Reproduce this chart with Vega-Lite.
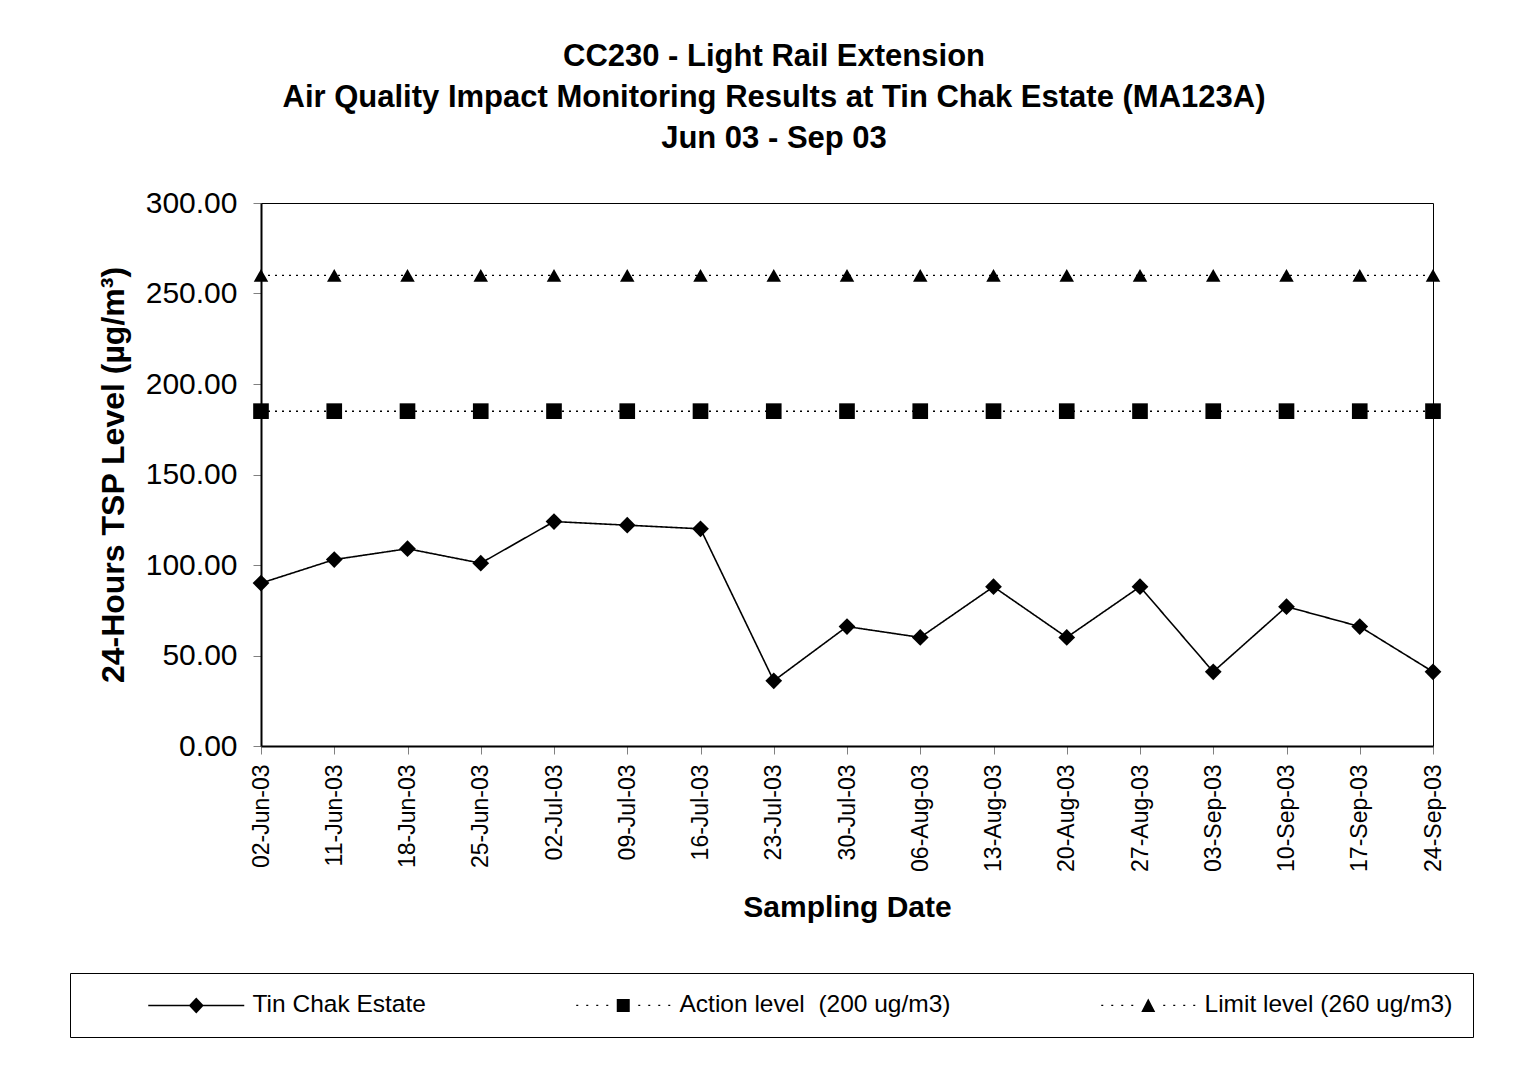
{
  "$schema": "https://vega.github.io/schema/vega-lite/v6.json",
  "autosize": {"type": "none"},
  "width": 1172,
  "height": 543,
  "padding": {"left": 261, "top": 203, "right": 93, "bottom": 326},
  "background": "white",
  "config": {
    "font": "Liberation Sans",
    "view": {"stroke": "black", "strokeWidth": 1},
    "axis": {"grid": false, "domainColor": "black", "domainWidth": 2, "tickColor": "#808080", "tickSize": 8, "tickWidth": 1, "labelColor": "black", "titleColor": "black", "labelFont": "Liberation Sans", "titleFont": "Liberation Sans"}
  },
  "title": {
    "text": ["CC230 - Light Rail Extension", "Air Quality Impact Monitoring Results at Tin Chak Estate (MA123A)", "Jun 03 - Sep 03"],
    "font": "Liberation Sans",
    "fontSize": 31,
    "fontWeight": "bold",
    "color": "black",
    "lineHeight": 41,
    "anchor": "middle",
    "dx": -73,
    "offset": 33
  },
  "data": {
    "values": [
      {"date": "02-Jun-03", "series": "Tin Chak Estate", "value": 90},
      {"date": "11-Jun-03", "series": "Tin Chak Estate", "value": 103},
      {"date": "18-Jun-03", "series": "Tin Chak Estate", "value": 109},
      {"date": "25-Jun-03", "series": "Tin Chak Estate", "value": 101},
      {"date": "02-Jul-03", "series": "Tin Chak Estate", "value": 124},
      {"date": "09-Jul-03", "series": "Tin Chak Estate", "value": 122},
      {"date": "16-Jul-03", "series": "Tin Chak Estate", "value": 120},
      {"date": "23-Jul-03", "series": "Tin Chak Estate", "value": 36},
      {"date": "30-Jul-03", "series": "Tin Chak Estate", "value": 66},
      {"date": "06-Aug-03", "series": "Tin Chak Estate", "value": 60},
      {"date": "13-Aug-03", "series": "Tin Chak Estate", "value": 88},
      {"date": "20-Aug-03", "series": "Tin Chak Estate", "value": 60},
      {"date": "27-Aug-03", "series": "Tin Chak Estate", "value": 88},
      {"date": "03-Sep-03", "series": "Tin Chak Estate", "value": 41},
      {"date": "10-Sep-03", "series": "Tin Chak Estate", "value": 77},
      {"date": "17-Sep-03", "series": "Tin Chak Estate", "value": 66},
      {"date": "24-Sep-03", "series": "Tin Chak Estate", "value": 41},
      {"date": "02-Jun-03", "series": "Action level  (200 ug/m3)", "value": 185},
      {"date": "11-Jun-03", "series": "Action level  (200 ug/m3)", "value": 185},
      {"date": "18-Jun-03", "series": "Action level  (200 ug/m3)", "value": 185},
      {"date": "25-Jun-03", "series": "Action level  (200 ug/m3)", "value": 185},
      {"date": "02-Jul-03", "series": "Action level  (200 ug/m3)", "value": 185},
      {"date": "09-Jul-03", "series": "Action level  (200 ug/m3)", "value": 185},
      {"date": "16-Jul-03", "series": "Action level  (200 ug/m3)", "value": 185},
      {"date": "23-Jul-03", "series": "Action level  (200 ug/m3)", "value": 185},
      {"date": "30-Jul-03", "series": "Action level  (200 ug/m3)", "value": 185},
      {"date": "06-Aug-03", "series": "Action level  (200 ug/m3)", "value": 185},
      {"date": "13-Aug-03", "series": "Action level  (200 ug/m3)", "value": 185},
      {"date": "20-Aug-03", "series": "Action level  (200 ug/m3)", "value": 185},
      {"date": "27-Aug-03", "series": "Action level  (200 ug/m3)", "value": 185},
      {"date": "03-Sep-03", "series": "Action level  (200 ug/m3)", "value": 185},
      {"date": "10-Sep-03", "series": "Action level  (200 ug/m3)", "value": 185},
      {"date": "17-Sep-03", "series": "Action level  (200 ug/m3)", "value": 185},
      {"date": "24-Sep-03", "series": "Action level  (200 ug/m3)", "value": 185},
      {"date": "02-Jun-03", "series": "Limit level (260 ug/m3)", "value": 260},
      {"date": "11-Jun-03", "series": "Limit level (260 ug/m3)", "value": 260},
      {"date": "18-Jun-03", "series": "Limit level (260 ug/m3)", "value": 260},
      {"date": "25-Jun-03", "series": "Limit level (260 ug/m3)", "value": 260},
      {"date": "02-Jul-03", "series": "Limit level (260 ug/m3)", "value": 260},
      {"date": "09-Jul-03", "series": "Limit level (260 ug/m3)", "value": 260},
      {"date": "16-Jul-03", "series": "Limit level (260 ug/m3)", "value": 260},
      {"date": "23-Jul-03", "series": "Limit level (260 ug/m3)", "value": 260},
      {"date": "30-Jul-03", "series": "Limit level (260 ug/m3)", "value": 260},
      {"date": "06-Aug-03", "series": "Limit level (260 ug/m3)", "value": 260},
      {"date": "13-Aug-03", "series": "Limit level (260 ug/m3)", "value": 260},
      {"date": "20-Aug-03", "series": "Limit level (260 ug/m3)", "value": 260},
      {"date": "27-Aug-03", "series": "Limit level (260 ug/m3)", "value": 260},
      {"date": "03-Sep-03", "series": "Limit level (260 ug/m3)", "value": 260},
      {"date": "10-Sep-03", "series": "Limit level (260 ug/m3)", "value": 260},
      {"date": "17-Sep-03", "series": "Limit level (260 ug/m3)", "value": 260},
      {"date": "24-Sep-03", "series": "Limit level (260 ug/m3)", "value": 260}
    ]
  },
  "encoding": {
    "x": {
      "field": "date", "type": "ordinal", "sort": null,
      "scale": {"type": "point", "padding": 0},
      "axis": {"title": "Sampling Date", "titleFontSize": 30, "titleFontWeight": "bold", "titlePadding": 21, "labelAngle": 270, "labelFontSize": 23, "labelPadding": 10}
    },
    "y": {
      "field": "value", "type": "quantitative",
      "scale": {"domain": [0, 300], "nice": false},
      "axis": {"title": "24-Hours TSP Level (µg/m³)", "titleFontSize": 32, "titleFontWeight": "bold", "titlePadding": 15, "values": [0, 50, 100, 150, 200, 250, 300], "format": ".2f", "labelFontSize": 30, "labelPadding": 16}
    }
  },
  "layer": [
    {
      "mark": {"type": "line", "color": "black"},
      "encoding": {
        "detail": {"field": "series"},
        "strokeDash": {"field": "series", "type": "nominal", "scale": {"domain": ["Tin Chak Estate", "Action level  (200 ug/m3)", "Limit level (260 ug/m3)"], "range": [[1, 0], [2, 5], [2, 5]]}, "legend": null},
        "strokeWidth": {"field": "series", "type": "nominal", "scale": {"domain": ["Tin Chak Estate", "Action level  (200 ug/m3)", "Limit level (260 ug/m3)"], "range": [1.6, 1.3, 1.3]}, "legend": null}
      }
    },
    {
      "mark": {"type": "point", "filled": true, "color": "black", "opacity": 1},
      "encoding": {
        "shape": {"field": "series", "type": "nominal", "scale": {"domain": ["Tin Chak Estate", "Action level  (200 ug/m3)", "Limit level (260 ug/m3)"], "range": ["diamond", "square", "triangle-up"]}, "legend": null},
        "size": {"field": "series", "type": "nominal", "scale": {"domain": ["Tin Chak Estate", "Action level  (200 ug/m3)", "Limit level (260 ug/m3)"], "range": [280, 210, 310]}, "legend": null}
      }
    },
    {
      "mark": {"type": "point", "filled": true, "color": "black", "opacity": 0, "size": 100},
      "encoding": {
        "shape": {
          "field": "series", "type": "nominal",
          "scale": {"domain": ["Tin Chak Estate", "Action level  (200 ug/m3)", "Limit level (260 ug/m3)"],
            "range": [
              "M9.2,-0.15H28.4V0.15H9.2Z M18.8,-1.6L20.3,0L18.8,1.6L17.3,0Z",
              "M9.4,-0.12h0.4v0.25h-0.4Z M11.4,-0.12h0.4v0.25h-0.4Z M13.4,-0.12h0.4v0.25h-0.4Z M15.4,-0.12h0.4v0.25h-0.4Z M21.8,-0.12h0.4v0.25h-0.4Z M23.8,-0.12h0.4v0.25h-0.4Z M25.8,-0.12h0.4v0.25h-0.4Z M27.8,-0.12h0.4v0.25h-0.4Z M17.5,-1.3H20.1V1.3H17.5Z",
              "M9.4,-0.12h0.4v0.25h-0.4Z M11.4,-0.12h0.4v0.25h-0.4Z M13.4,-0.12h0.4v0.25h-0.4Z M15.4,-0.12h0.4v0.25h-0.4Z M21.8,-0.12h0.4v0.25h-0.4Z M23.8,-0.12h0.4v0.25h-0.4Z M25.8,-0.12h0.4v0.25h-0.4Z M27.8,-0.12h0.4v0.25h-0.4Z M17.4,1.3L18.8,-1.4L20.2,1.3Z"
            ]},
          "legend": {
            "title": null, "orient": "none", "legendX": -191, "legendY": 770, "direction": "horizontal",
            "columnPadding": 91, "padding": 20, "strokeColor": "black", "fillColor": "white",
            "labelFontSize": 24.5, "labelColor": "black", "labelOffset": 138, "labelLimit": 400,
            "labelExpr": "replace(datum.label, '  ', ' \u00a0')",
            "symbolSize": 100, "symbolStrokeWidth": 0, "symbolFillColor": "black", "symbolOpacity": 1
          }
        }
      }
    }
  ],
  "resolve": {"scale": {"shape": "independent"}}
}
